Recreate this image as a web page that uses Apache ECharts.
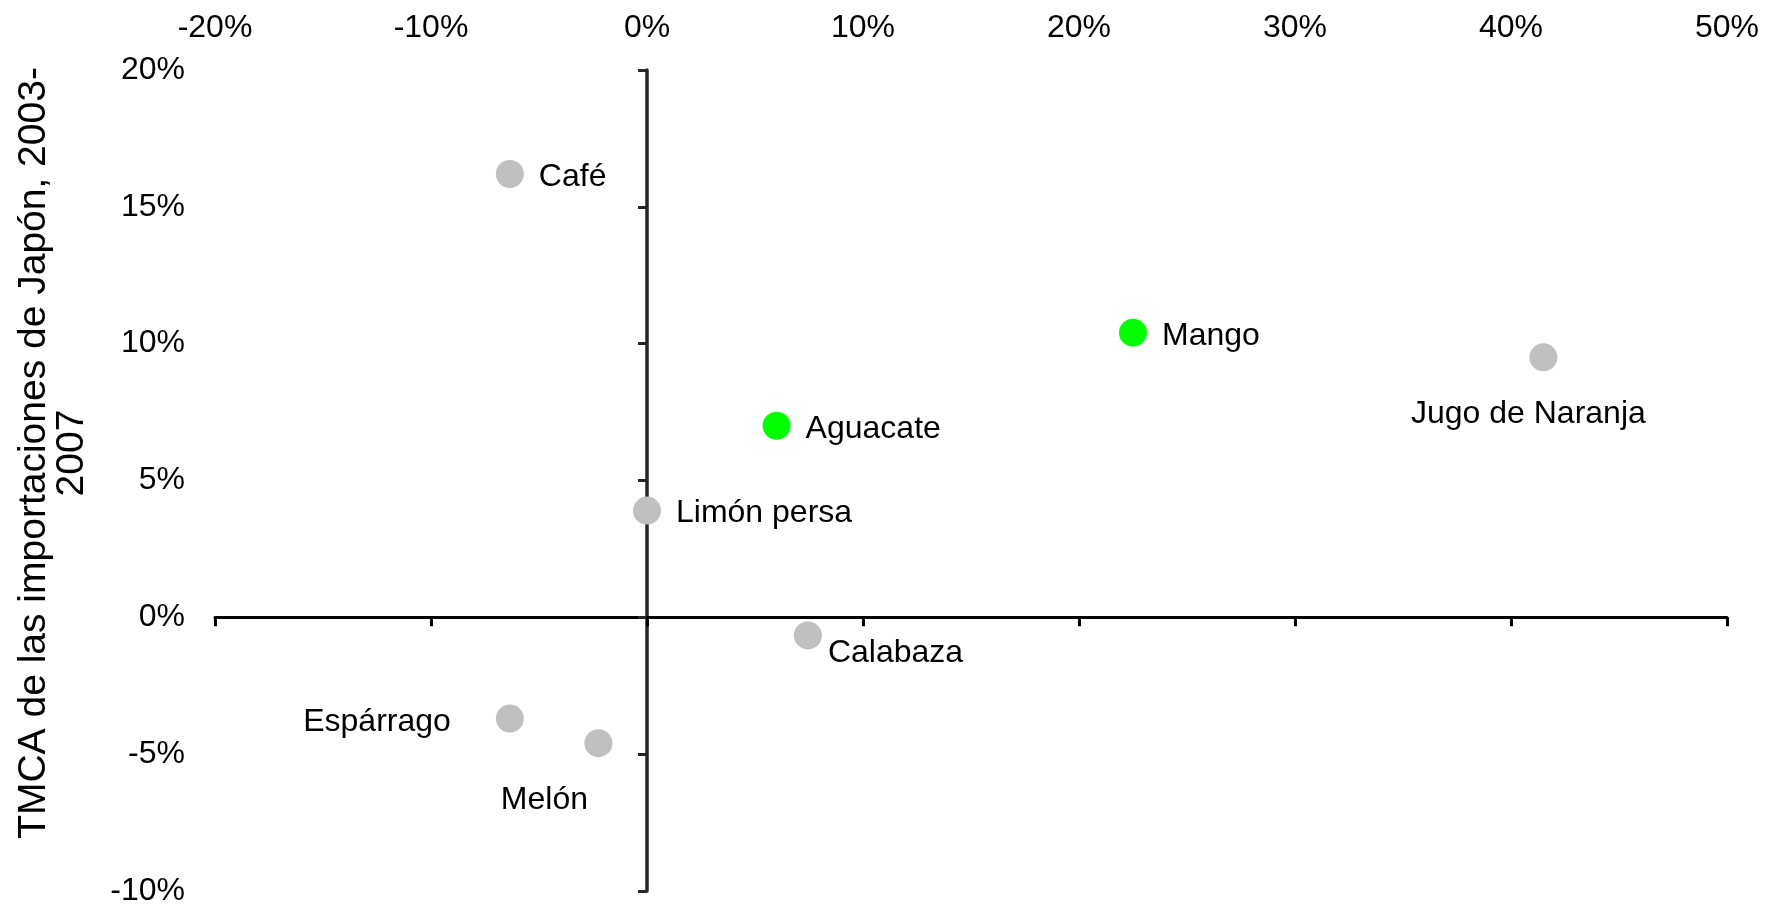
<!DOCTYPE html>
<html>
<head>
<meta charset="utf-8">
<script src="https://cdn.jsdelivr.net/npm/echarts@6/dist/echarts.min.js"></script>
<style>
  html, body { margin: 0; padding: 0; background: #fff; }
  #chart { width: 1776px; height: 907px; }
</style>
</head>
<body>
<div id="chart"></div>
<script>
// productos y sus tasas (en %)
var productos = ['Café', 'Mango', 'Jugo de Naranja', 'Aguacate', 'Limón persa', 'Calabaza', 'Espárrago', 'Melón'];
var valoresX = [-6.35, 22.5, 41.5, 6.0, 0.0, 7.45, -6.35, -2.25];
var valoresY = [16.2, 10.4, 9.5, 7.0, 3.9, -0.66, -3.7, -4.6];
var destacados = ['Mango', 'Aguacate'];

var fuente = "'Liberation Sans', Arial, sans-serif";

// posicion de la etiqueta de cada punto
var etiquetas = {
  'Jugo de Naranja': { position: 'bottom', distance: 27, offset: [-15, 0] },
  'Calabaza': { position: 'right', distance: 6, offset: [0, 18] },
  'Espárrago': { position: 'left', distance: 45, offset: [0, 4] },
  'Melón': { position: 'bottom', distance: 27, offset: [-54, 0] }
};

var datos = productos.map(function (n, i) {
  var lbl = etiquetas[n] || { position: 'right', distance: 15, offset: [0, 3] };
  return {
    name: n,
    value: [valoresX[i], valoresY[i]],
    itemStyle: { color: destacados.indexOf(n) >= 0 ? '#00ff00' : '#c0c0c0', opacity: 1 },
    label: lbl
  };
});

var myChart = echarts.init(document.getElementById('chart'));
var option = {
  animation: false,
  backgroundColor: '#fff',
  grid: { left: 215, right: 49, top: 70, bottom: 13, containLabel: false },
  xAxis: [
    {
      type: 'value', position: 'top', min: -20, max: 50, interval: 10,
      axisLine: { show: false, onZero: false },
      axisTick: { show: false },
      splitLine: { show: false },
      axisLabel: { formatter: '{value}%', fontSize: 32, color: '#000', fontFamily: fuente, margin: 26 }
    },
    {
      type: 'value', position: 'bottom', min: -20, max: 50, interval: 10,
      axisLine: { show: true, onZero: true, lineStyle: { color: '#000', width: 3 } },
      axisTick: { show: true, length: 9, lineStyle: { color: '#000', width: 3 } },
      splitLine: { show: false },
      axisLabel: { show: false }
    }
  ],
  yAxis: [
    {
      type: 'value', position: 'left', min: -10, max: 20, interval: 5,
      axisLine: { show: false, onZero: false },
      axisTick: { show: false },
      splitLine: { show: false },
      axisLabel: { formatter: '{value}%', fontSize: 32, color: '#000', fontFamily: fuente, margin: 30, padding: [5, 0, 0, 0] }
    },
    {
      type: 'value', position: 'left', min: -10, max: 20, interval: 5,
      axisLine: { show: true, onZero: true, lineStyle: { color: '#262626', width: 3.5 } },
      axisTick: { show: true, length: 9, lineStyle: { color: '#262626', width: 3 } },
      splitLine: { show: false },
      axisLabel: { show: false }
    }
  ],
  graphic: [
    {
      type: 'text', x: 53, y: 453, rotation: Math.PI / 2,
      style: {
        text: 'TMCA de las importaciones de Japón, 2003-\n2007',
        font: '39px ' + fuente, fill: '#000',
        align: 'center', verticalAlign: 'middle', lineHeight: 38
      }
    }
  ],
  series: [
    {
      type: 'scatter',
      xAxisIndex: 0,
      yAxisIndex: 0,
      symbol: 'circle',
      symbolSize: 28,
      data: datos,
      label: {
        show: true,
        formatter: '{b}',
        fontSize: 32,
        color: '#000',
        fontFamily: fuente
      },
      emphasis: { disabled: true }
    }
  ]
};
option && myChart.setOption(option);
</script>
</body>
</html>
